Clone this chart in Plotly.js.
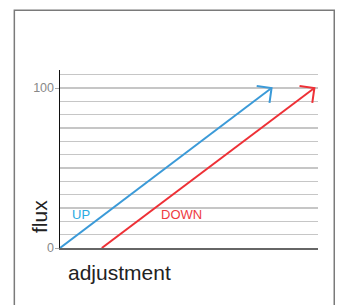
<!DOCTYPE html>
<html>
<head>
<meta charset="utf-8">
<script src="https://cdn.plot.ly/plotly-3.0.1.min.js"></script>
<style>html,body{margin:0;padding:0;background:#fff;}#chart{width:341px;height:305px;}</style>
</head>
<body>
<div id="chart"></div>
<script>
// Data
const adjustUp = [0, 82];
const fluxUp = [0, 100];
const adjustDown = [16.2, 98.6];
const fluxDown = [0, 100];
const yTickVals = [0, 100];
const yTickText = ['0', '100'];
const seriesLabels = ['UP', 'DOWN'];
const xTitle = 'adjustment';
const yTitle = 'flux';

const W = 341, H = 305;
const M = {l: 60, r: 23, t: 70, b: 57};
const xRange = [0, 100];
const yRange = [0, 111.25];
const blue = '#3b9ad8';
const red = '#ee3036';
const font = 'Liberation Sans, Arial, sans-serif';

const pxX = (W - M.l - M.r) / (xRange[1] - xRange[0]);
const pxY = (H - M.t - M.b) / (yRange[1] - yRange[0]);

function arrowHead(xs, ys, color) {
  const n = xs.length - 1;
  const dx = (xs[n] - xs[n - 1]) * pxX;
  const dy = (ys[n] - ys[n - 1]) * pxY;
  const ang = Math.atan2(dy, dx) + Math.PI;
  const L = 15, spread = Math.PI / 4;
  const a1 = ang + spread, a2 = ang - spread;
  const p1 = [L * Math.cos(a1), L * Math.sin(a1)];
  const p2 = [L * Math.cos(a2), L * Math.sin(a2)];
  return {
    type: 'path', xref: 'x', yref: 'y', xsizemode: 'pixel', ysizemode: 'pixel',
    xanchor: xs[n], yanchor: ys[n],
    path: `M${p1[0].toFixed(2)},${p1[1].toFixed(2)} L0,0 L${p2[0].toFixed(2)},${p2[1].toFixed(2)}`,
    line: {color: color, width: 2}
  };
}

const traces = [
  {x: adjustUp, y: fluxUp, type: 'scatter', mode: 'lines', line: {color: blue, width: 2}, hoverinfo: 'skip'},
  {x: adjustDown, y: fluxDown, type: 'scatter', mode: 'lines', line: {color: red, width: 2}, hoverinfo: 'skip'}
];

const layout = {
  width: W, height: H,
  margin: M,
  paper_bgcolor: '#fff', plot_bgcolor: '#fff',
  showlegend: false,
  font: {family: font},
  xaxis: {
    range: xRange, showgrid: false, zeroline: false, showticklabels: false, ticks: '',
    showline: true, linecolor: '#666', linewidth: 2, fixedrange: true
  },
  yaxis: {
    range: yRange, zeroline: false, showgrid: false,
    tickmode: 'array', tickvals: yTickVals, ticktext: yTickText,
    ticks: 'outside', ticklen: 4, tickcolor: '#aaa', tickwidth: 1,
    ticklabelstandoff: -2,
    tickfont: {size: 12.5, color: '#888', family: font},
    showline: true, linecolor: '#111', linewidth: 1.5,
    minor: {tickmode: 'linear', tick0: 0, dtick: 100 / 12, showgrid: true, gridcolor: '#c6c6c6', gridwidth: 1.5, ticks: ''},
    fixedrange: true
  },
  shapes: [
    {type: 'rect', xref: 'paper', yref: 'paper', x0: -0.177, x1: 1.063, y0: -0.5, y1: 1.335,
     line: {color: '#7a7a7a', width: 1.5}, fillcolor: 'rgba(0,0,0,0)', layer: 'below'},
    arrowHead(adjustUp, fluxUp, blue),
    arrowHead(adjustDown, fluxDown, red)
  ],
  annotations: [
    {x: 8.1, y: 21.25, xref: 'x', yref: 'y', text: seriesLabels[0], showarrow: false,
     font: {size: 13, color: '#2aaae2', family: font}},
    {x: 46.9, y: 21.25, xref: 'x', yref: 'y', text: seriesLabels[1], showarrow: false,
     font: {size: 13, color: '#ee3a3f', family: font}},
    {x: (66 - M.l) / (W - M.l - M.r), y: (248 - 272) / (H - M.t - M.b), xref: 'paper', yref: 'paper',
     xanchor: 'left', yanchor: 'middle', text: xTitle, showarrow: false,
     font: {size: 21, color: '#222', family: font}},
    {x: (39 - M.l) / (W - M.l - M.r), y: (248 - 217) / (H - M.t - M.b), xref: 'paper', yref: 'paper',
     xanchor: 'center', yanchor: 'middle', textangle: -90, text: yTitle, showarrow: false,
     font: {size: 21, color: '#222', family: font}}
  ]
};

Plotly.newPlot('chart', traces, layout, {staticPlot: true, displayModeBar: false});
</script>
</body>
</html>
